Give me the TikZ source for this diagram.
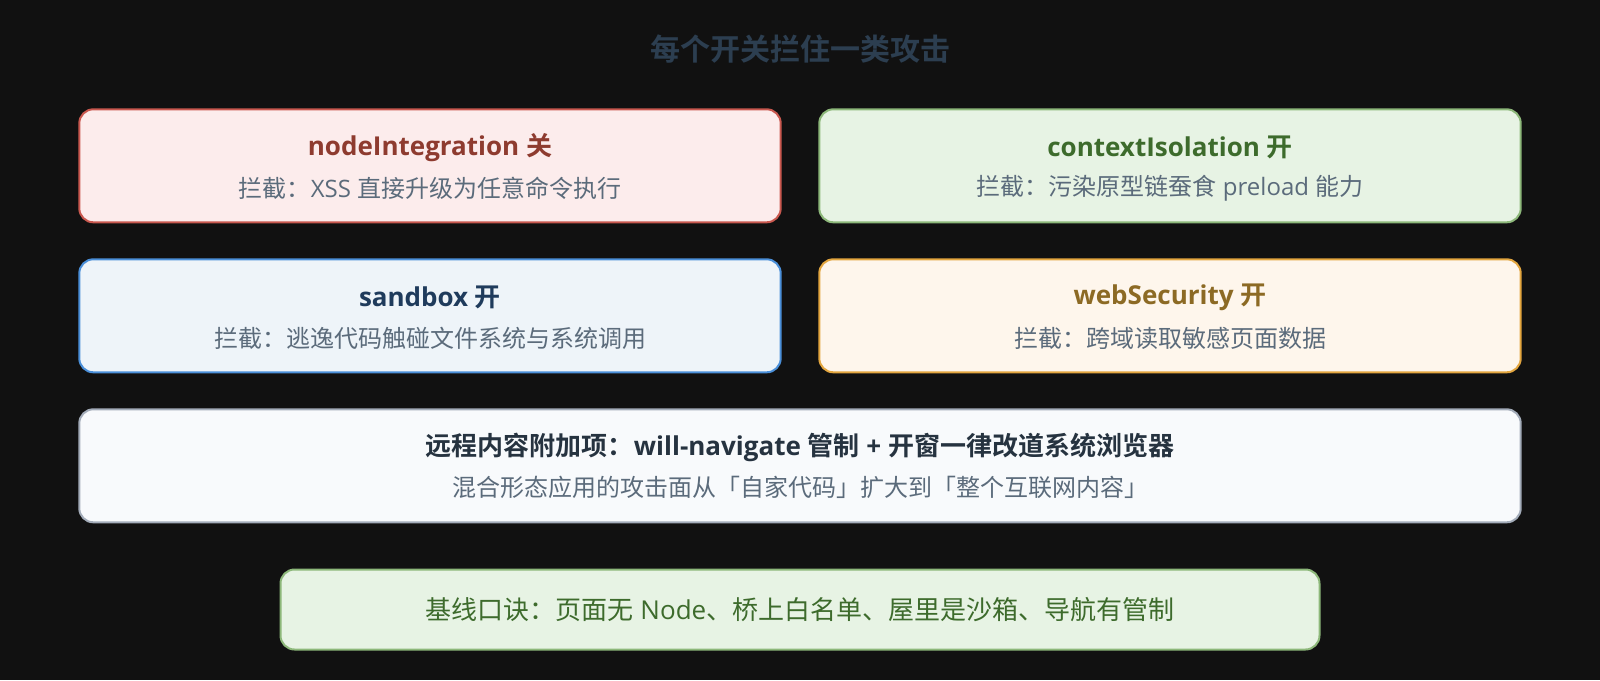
\documentclass[tikz,border=0pt]{standalone}
\usepackage{fontspec}
\setmainfont{Open Sans}
\newfontfamily\zh{Noto Sans CJK SC}[BoldFont={Noto Sans CJK SC Bold}]
\definecolor{bgc}{HTML}{111111}
\definecolor{ttl}{HTML}{2C3E50}
\definecolor{subc}{HTML}{5B6B7B}
\definecolor{rfill}{HTML}{FCECEC}\definecolor{rline}{HTML}{C9584F}\definecolor{rtxt}{HTML}{8E3B2F}
\definecolor{gfill}{HTML}{E7F3E4}\definecolor{gline}{HTML}{8DB87A}\definecolor{gtxt}{HTML}{3D6B2C}
\definecolor{bfill}{HTML}{EEF4F9}\definecolor{bline}{HTML}{4A8FD9}\definecolor{btxt}{HTML}{1F3B5C}
\definecolor{ofill}{HTML}{FEF6EC}\definecolor{oline}{HTML}{E3A63F}\definecolor{otxt}{HTML}{8C6A24}
\definecolor{sfill}{HTML}{F8FAFC}\definecolor{sline}{HTML}{A3ACB9}\definecolor{stxt}{HTML}{263340}
\tikzset{
  card/.style={draw, line width=2pt, rounded corners=14pt, inner sep=0pt, minimum height=113pt},
  halfcard/.style={card, minimum width=701.4pt},
  cardtitle/.style={font=\fontsize{26}{30}\selectfont\bfseries, inner sep=0pt},
  cardsub/.style={font=\fontsize{24}{28}\selectfont, text=subc, inner sep=0pt},
}
\begin{document}
\begin{tikzpicture}[x=1pt,y=-1pt]
\fill[bgc] (0,0) rectangle (1600,680);
\useasboundingbox (0,0) rectangle (1600,680);
\node[font=\fontsize{30}{34}\selectfont\bfseries\zh, text=ttl, inner sep=0pt] (title) at (800,49) {每个开关拦住一类攻击};

\node[halfcard, fill=rfill, draw=rline] (b1) at (430,165.8) {};
\node[cardtitle, text=rtxt] (b1t) at ([yshift=18pt]b1.center) {nodeIntegration {\zh 关}};
\node[cardsub] (b1s) at ([yshift=-22.5pt]b1.center) {{\zh 拦截：}XSS {\zh 直接升级为任意命令执行}};

\node[halfcard, fill=gfill, draw=gline] (b2) at (1170,165.8) {};
\node[cardtitle, text=gtxt] (b2t) at ([yshift=18pt]b2.center) {contextIsolation {\zh 开}};
\node[cardsub] (b2s) at ([yshift=-22.5pt]b2.center) {{\zh 拦截：污染原型链蚕食} preload {\zh 能力}};

\node[halfcard, fill=bfill, draw=bline] (b3) at (430,315.8) {};
\node[cardtitle, text=btxt] (b3t) at ([yshift=18pt]b3.center) {sandbox {\zh 开}};
\node[cardsub] (b3s) at ([yshift=-22.5pt]b3.center) {{\zh 拦截：逃逸代码触碰文件系统与系统调用}};

\node[halfcard, fill=ofill, draw=oline] (b4) at (1170,315.8) {};
\node[cardtitle, text=otxt] (b4t) at ([yshift=18pt]b4.center) {webSecurity {\zh 开}};
\node[cardsub] (b4s) at ([yshift=-22.5pt]b4.center) {{\zh 拦截：跨域读取敏感页面数据}};

\node[card, fill=sfill, draw=sline, minimum width=1441.4pt] (b5) at (800,465.8) {};
\node[cardtitle, text=stxt] (b5t) at ([yshift=18pt]b5.center) {{\zh 远程内容附加项：}will-navigate {\zh 管制} + {\zh 开窗一律改道系统浏览器}};
\node[cardsub] (b5s) at ([yshift=-22pt]b5.center) {{\zh 混合形态应用的攻击面从「自家代码」扩大到「整个互联网内容」}};

\node[draw=gline, fill=gfill, line width=2pt, rounded corners=14pt, inner sep=0pt, minimum width=1039pt, minimum height=80pt, font=\fontsize{26}{30}\selectfont, text=gtxt] (b6) at (800,609.5) {{\zh 基线口诀：页面无} Node{\zh 、桥上白名单、屋里是沙箱、导航有管制}};
\end{tikzpicture}
\end{document}
